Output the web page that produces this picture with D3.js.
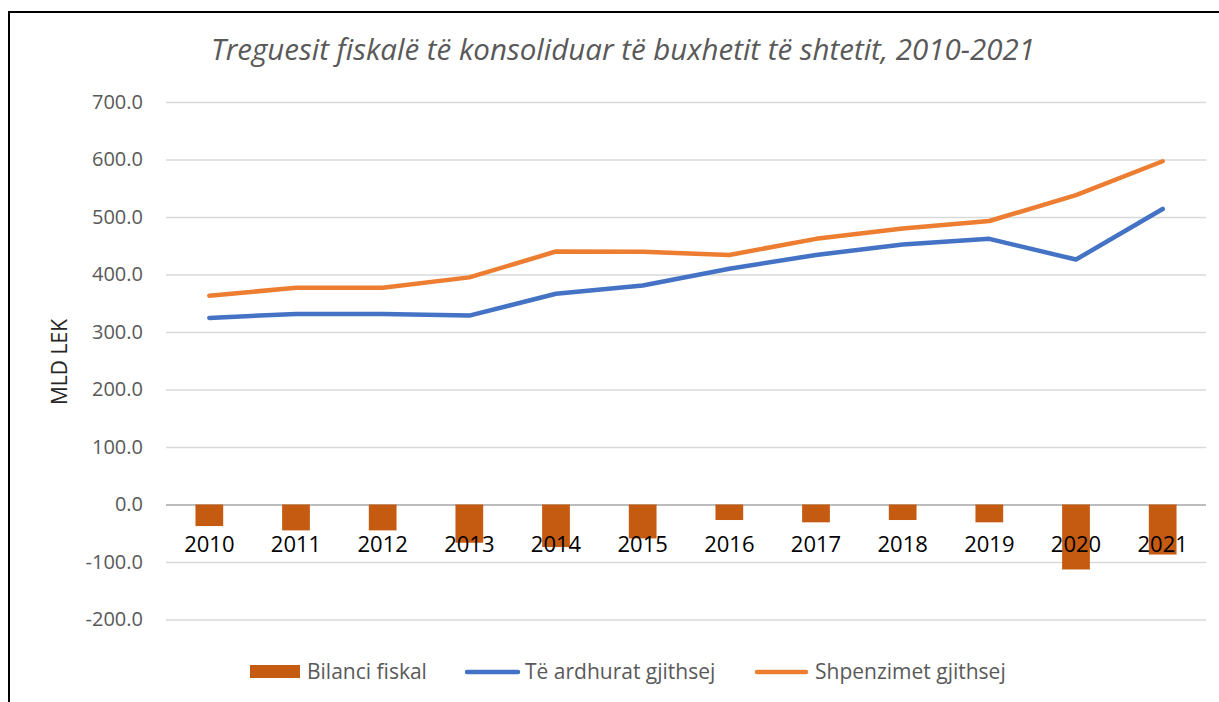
<!DOCTYPE html>
<html>
<head>
<meta charset="utf-8">
<script src="https://cdn.jsdelivr.net/npm/d3@7"></script>
<style>
  body { margin: 0; background: #fff; }
  svg { display: block; font-family: "Open Sans", sans-serif; }
</style>
</head>
<body>
<svg id="drawing_region" width="1219" height="702"></svg>
<script>
// values (MLD LEK)
var years = ["2010", "2011", "2012", "2013", "2014", "2015", "2016", "2017", "2018", "2019", "2020", "2021"];
var bilanci = [-37.5, -45, -45, -66.5, -74, -59, -27, -31, -27, -31, -113, -87];
var ardhurat = [324.5, 331.5, 331.5, 328.5, 366.5, 381, 410, 434, 452, 462, 426, 514];
var shpenzimet = [363, 377, 377, 395, 440, 439.5, 434, 462, 480, 493, 538, 597];
var yTicks = [-200, -100, 0, 100, 200, 300, 400, 500, 600, 700];

var width = 1219;
var height = 702;
var margin = { top: 102, right: 13, bottom: 82.5, left: 166 };

var svg = d3.select('#drawing_region');

// chart frame
svg.append('rect')
    .attr('x', 9).attr('y', 12)
    .attr('width', 1400).attr('height', 900)
    .attr('fill', 'none')
    .attr('stroke', '#000')
    .attr('stroke-width', 2);

svg.append('text')
    .attr('x', 623).attr('y', 60)
    .attr('text-anchor', 'middle')
    .style('font-style', 'italic')
    .style('font-size', '29.5px')
    .attr('fill', '#595959')
    .text('Treguesit fiskalë të konsoliduar të buxhetit të shtetit, 2010-2021');

var chart = svg.append('g')
    .attr('transform', `translate(${margin.left}, ${margin.top})`);

const inner_width = width - margin.left - margin.right;
const inner_height = height - margin.top - margin.bottom;

const xscale = d3.scaleBand()
    .domain(years)
    .range([0, inner_width]);

const yscale = d3.scaleLinear()
    .domain([-200, 700])
    .range([inner_height, 0]);

// y axis with gridlines
const yaxis = d3.axisLeft(yscale)
    .tickValues(yTicks)
    .tickFormat(d => d.toFixed(1))
    .tickSize(-inner_width)
    .tickPadding(23);

const yaxis_group = chart.append('g').call(yaxis);
yaxis_group.select('.domain').remove();
yaxis_group.selectAll('line')
    .attr('stroke', d => d === 0 ? '#a6a6a6' : '#d9d9d9')
    .attr('stroke-width', 1.5);
yaxis_group.selectAll('text')
    .attr('fill', '#595959')
    .style('font-size', '20px')
    .style('font-family', '"Open Sans", sans-serif');

svg.append('text')
    .attr('transform', 'translate(67, 362) rotate(-90)')
    .attr('text-anchor', 'middle')
    .style('font-size', '21px')
    .attr('fill', '#262626')
    .text('MLD LEK');

// bars
const barw = xscale.bandwidth() * 0.32;
chart.selectAll('rect.bar')
    .data(bilanci)
    .join('rect')
    .attr('class', 'bar')
    .attr('x', (d, i) => xscale(years[i]) + (xscale.bandwidth() - barw) / 2)
    .attr('y', d => yscale(Math.max(0, d)))
    .attr('width', barw)
    .attr('height', d => Math.abs(yscale(d) - yscale(0)))
    .attr('fill', '#c55a11');

// lines
const line = d3.line()
    .x((d, i) => xscale(years[i]) + xscale.bandwidth() / 2)
    .y(d => yscale(d));

[[ardhurat, '#4472c4'], [shpenzimet, '#ed7d31']].forEach(s => {
    chart.append('path')
        .datum(s[0])
        .attr('d', line)
        .attr('fill', 'none')
        .attr('stroke', s[1])
        .attr('stroke-width', 4.5)
        .attr('stroke-linejoin', 'round')
        .attr('stroke-linecap', 'round');
});

// x axis labels sit at zero
const xaxis = d3.axisBottom(xscale)
    .tickSize(0)
    .tickPadding(32);
const xaxis_group = chart.append('g')
    .attr('transform', `translate(0, ${yscale(0)})`)
    .call(xaxis);
xaxis_group.select('.domain').remove();
xaxis_group.selectAll('text')
    .attr('fill', '#000')
    .style('font-size', '22px')
    .style('font-family', '"Open Sans", sans-serif');

// legend
var legend = svg.append('g');
legend.append('rect')
    .attr('x', 250).attr('y', 665)
    .attr('width', 50).attr('height', 13)
    .attr('fill', '#c55a11');
legend.append('text').attr('x', 307).attr('y', 679).text('Bilanci fiskal');
legend.append('line')
    .attr('x1', 467).attr('x2', 518).attr('y1', 672).attr('y2', 672)
    .attr('stroke', '#4472c4').attr('stroke-width', 4.5).attr('stroke-linecap', 'round');
legend.append('text').attr('x', 525).attr('y', 679).text('Të ardhurat gjithsej');
legend.append('line')
    .attr('x1', 757).attr('x2', 806).attr('y1', 672).attr('y2', 672)
    .attr('stroke', '#ed7d31').attr('stroke-width', 4.5).attr('stroke-linecap', 'round');
legend.append('text').attr('x', 815).attr('y', 679).text('Shpenzimet gjithsej');
legend.selectAll('text')
    .attr('fill', '#595959')
    .style('font-size', '21px');
</script>
</body>
</html>
